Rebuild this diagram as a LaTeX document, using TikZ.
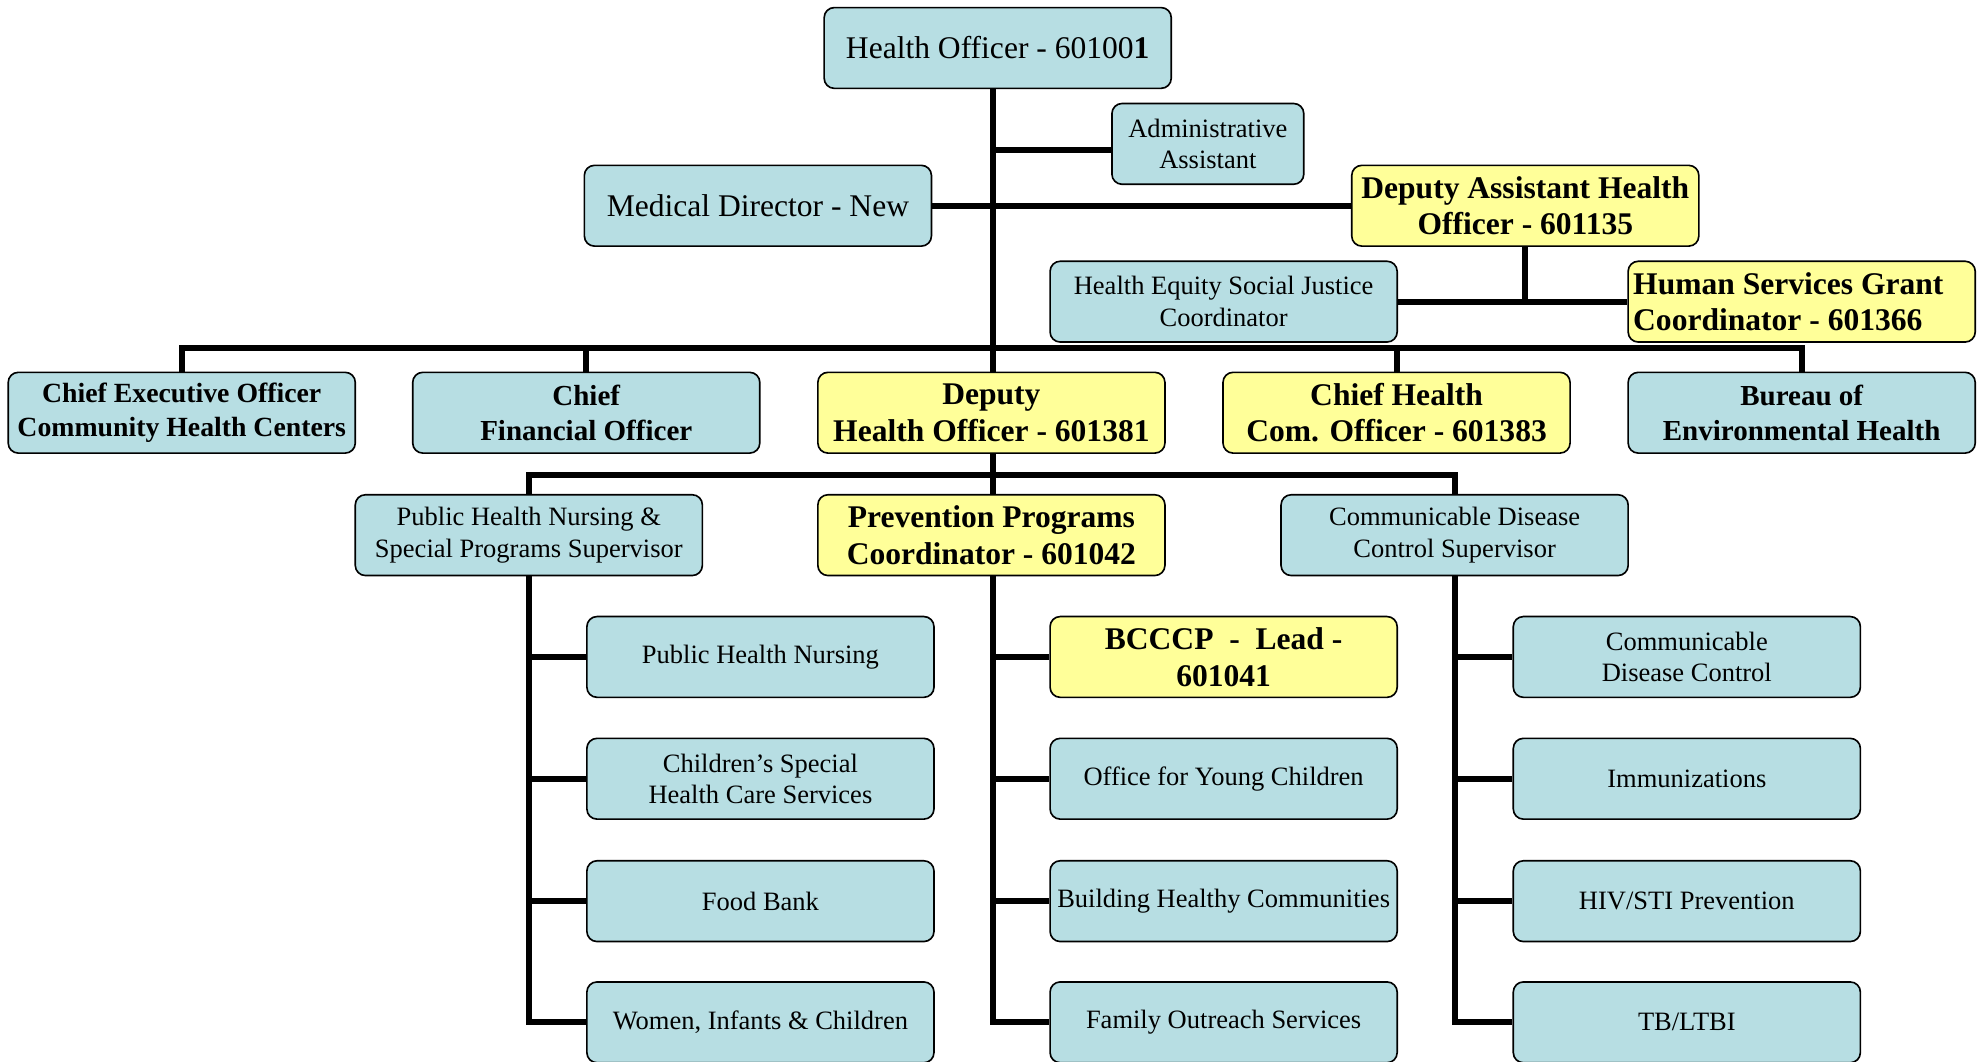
\documentclass[tikz,border=0pt]{standalone}
\usepackage{fontspec}
\setmainfont{Liberation Serif}
\definecolor{boxblue}{HTML}{B7DEE3}
\definecolor{boxyellow}{HTML}{FFFF99}
\tikzset{
  box/.style={draw=black, line width=1.3pt, rounded corners=8pt, minimum width=275pt,
    minimum height=64pt, inner sep=2pt, align=center, text=black},
  bluebox/.style={box, fill=boxblue},
  yellowbox/.style={box, fill=boxyellow},
  smallf/.style={font=\fontsize{21}{25}\selectfont},
  bigf/.style={font=\fontsize{25}{29}\selectfont},
  bigbf/.style={font=\fontsize{25}{29}\selectfont\bfseries},
  midbf/.style={font=\fontsize{23}{27.5}\selectfont\bfseries},
  conn/.style={line width=4.8pt, draw=black},
}
\begin{document}
\begin{tikzpicture}[x=1pt,y=-1pt]
\useasboundingbox (0,0) rectangle (1568,841);
% top
\node[bluebox, bigf] (ho) at (790.5,38) {Health Officer - 60100\textbf{1}};
\node[bluebox, smallf, minimum width=152pt] (admin) at (957,114) {Administrative\\Assistant};
\node[bluebox, bigf] (med) at (600.5,163) {Medical Director - New};
\node[yellowbox, bigbf] (daho) at (1208.5,163) {Deputy Assistant Health\\Officer - 601135};
\node[bluebox, smallf] (heq) at (969.5,239) {Health Equity Social Justice\\Coordinator};
\node[yellowbox, bigbf, align=flush left, text width=267pt, inner xsep=4pt] (hsg) at (1427.5,239) {Human Services Grant\\Coordinator - 601366};
% row 2
\node[bluebox, font=\fontsize{22}{27.5}\selectfont\bfseries] (ceo) at (144,327) {Chief Executive Officer\\Community Health Centers};
\node[bluebox, midbf] (cfo) at (464.5,327) {Chief\\Financial Officer};
\node[yellowbox, bigbf] (dho) at (785.5,327) {Deputy\\Health Officer - 601381};
\node[yellowbox, bigbf] (cho) at (1106.5,327) {Chief Health\\Com. Officer - 601383};
\node[bluebox, midbf] (beh) at (1427.5,327) {Bureau of\\Environmental Health};
% row 3
\node[bluebox, smallf] (phn) at (419,424) {Public Health Nursing \&\\Special Programs Supervisor};
\node[yellowbox, bigbf] (prev) at (785.5,424) {Prevention Programs\\Coordinator - 601042};
\node[bluebox, smallf] (cdc) at (1152.5,424) {Communicable Disease\\Control Supervisor};
% column 1
\node[bluebox, smallf] (a1) at (602.5,520.5) {Public Health Nursing};
\node[bluebox, smallf] (a2) at (602.5,617) {Children’s Special\\Health Care Services};
\node[bluebox, smallf] (a3) at (602.5,714) {Food Bank};
\node[bluebox, smallf] (a4) at (602.5,810) {Women, Infants \& Children};
% column 2
\node[yellowbox, bigbf] (b1) at (969.5,520.5) {BCCCP \ - \ Lead -\\601041};
\node[bluebox, smallf] (b2) at (969.5,617) {Office for Young Children};
\node[bluebox, smallf] (b3) at (969.5,714) {Building Healthy Communities};
\node[bluebox, smallf] (b4) at (969.5,810) {Family Outreach Services};
% column 3
\node[bluebox, smallf] (c1) at (1336.5,520.5) {Communicable\\Disease Control};
\node[bluebox, smallf] (c2) at (1336.5,617) {Immunizations};
\node[bluebox, smallf] (c3) at (1336.5,714) {HIV/STI Prevention};
\node[bluebox, smallf] (c4) at (1336.5,810) {TB/LTBI};
% connectors
\coordinate (top) at (787,70);
\coordinate (bus) at (787,276);
\coordinate (bus2) at (787,376);
\draw[conn] (top) -- (bus);
\draw[conn] (top |- admin.west) ++(0,5) -- ([yshift=-5pt]admin.west);
\draw[conn] (med.east) -- (daho.west);
\draw[conn] (daho.south) -- (daho.south |- heq.east);
\draw[conn] (heq.east) -- (hsg.west);
\draw[conn] (ceo.north) -- (ceo.north |- bus) -- (beh.north |- bus) -- (beh.north);
\foreach \n in {cfo,cho} \draw[conn] (\n.north) -- (\n.north |- bus);
\draw[conn] (bus) -- (bus |- dho.north);
\draw[conn] (bus |- dho.south) -- (bus2);
\draw[conn] (phn.north) -- (phn.north |- bus2) -- (cdc.north |- bus2) -- (cdc.north);
\draw[conn] (bus2) -- (bus2 |- prev.north);
% column trunks
\draw[conn] (phn.south) -- (phn.south |- a4.west) -- (a4.west);
\foreach \n in {a1,a2,a3} \draw[conn] (phn.south |- \n.west) -- (\n.west);
\draw[conn] (bus |- prev.south) -- (bus |- b4.west) -- (b4.west);
\foreach \n in {b1,b2,b3} \draw[conn] (bus |- \n.west) -- (\n.west);
\draw[conn] (cdc.south) -- (cdc.south |- c4.west) -- (c4.west);
\foreach \n in {c1,c2,c3} \draw[conn] (cdc.south |- \n.west) -- (\n.west);
\end{tikzpicture}
\end{document}
